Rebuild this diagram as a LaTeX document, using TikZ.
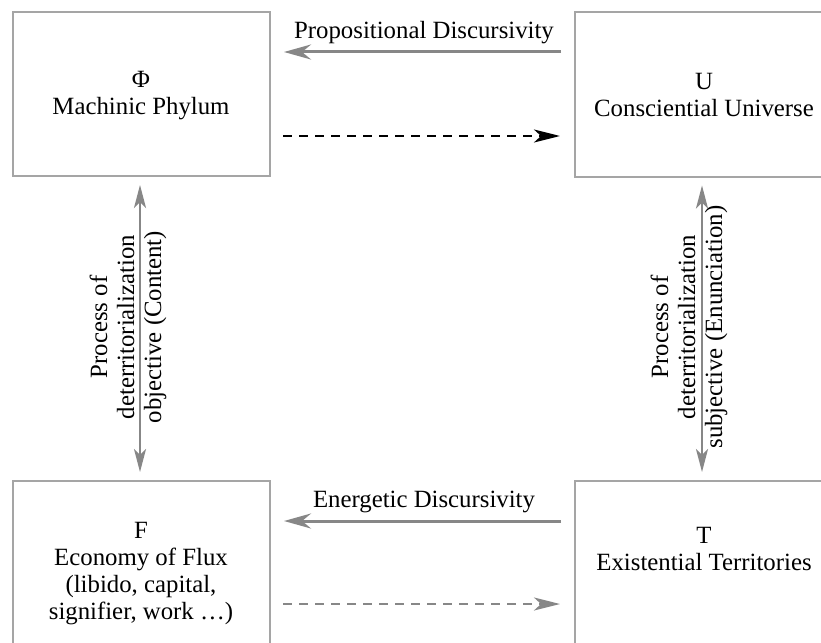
\documentclass[tikz,border=0pt]{standalone}
\usepackage{fontspec}
\setmainfont{Liberation Serif}
\usetikzlibrary{arrows.meta}
\definecolor{boxgray}{RGB}{165,165,165}
\definecolor{arrgray}{RGB}{135,135,135}
\begin{document}
\begin{tikzpicture}[x=1pt,y=-1pt,
  boxnode/.style={draw=boxgray,line width=2pt,minimum width=257pt,minimum height=164pt,inner sep=0pt},
  lbl/.style={font=\fontsize{24.8}{27}\selectfont,align=center,inner sep=0pt},
  vlbl/.style={lbl,rotate=90},
  solidarr/.style={draw=arrgray,line width=3pt,-{Stealth[length=27pt,width=15pt,inset=9pt]}},
  dasharr/.style={line width=2.6pt,dash pattern=on 9pt off 7pt,-{Stealth[length=26pt,width=13pt,inset=7pt]}},
  vertarr/.style={draw=arrgray,line width=2.6pt,{Stealth[length=23pt,width=12pt,inset=6pt]}-{Stealth[length=23pt,width=12pt,inset=6pt]}}
]
\useasboundingbox (0,0) rectangle (821,642);
\fill[white] (0,0) rectangle (821,642);
\clip (0,0) rectangle (821,642);

% boxes
\node[boxnode] (TL) at (141.5,94) {};
\node[boxnode] (TR) at (703.5,94.5) {};
\node[boxnode] (BL) at (141.5,563) {};
\node[boxnode] (BR) at (703.5,563) {};

% box texts
\node[lbl] (tlt) at (141,96) {Φ\\Machinic Phylum};
\node[lbl] (trt) at (704,95) {U\\Consciential Universe};
\node[lbl] (blt) at (141,574) {F\\Economy of Flux\\(libido, capital,\\signifier, work …)};
\node[lbl] (brt) at (704,549) {T\\Existential Territories};

% horizontal connectors
\draw[solidarr,shorten <=13pt,shorten >=13pt] (TR.west |- 0,52) -- (TL.east |- 0,52);
\draw[dasharr,draw=black,shorten <=12pt,shorten >=14pt] (TL.east |- 0,136) -- (TR.west |- 0,136);
\draw[solidarr,shorten <=13pt,shorten >=13pt] (BR.west |- 0,521) -- (BL.east |- 0,521);
\draw[dasharr,draw=arrgray,shorten <=12pt,shorten >=14pt] (BL.east |- 0,604) -- (BR.west |- 0,604);

\node[lbl] (pd) at (424,33) {Propositional Discursivity};
\node[lbl] (ed) at (424,502) {Energetic Discursivity};

% vertical connectors
\draw[vertarr,shorten <=8pt,shorten >=8pt] (TL.south -| 140,0) -- (BL.north -| 140,0);
\draw[vertarr,shorten <=8pt,shorten >=8pt] (TR.south -| 702,0) -- (BR.north -| 702,0);

\node[vlbl] (ol) at (128,327) {Process of\\deterritorialization\\objective (Content)};
\node[vlbl] (sl) at (689,327) {Process of\\deterritorialization\\subjective (Enunciation)};
\end{tikzpicture}
\end{document}
